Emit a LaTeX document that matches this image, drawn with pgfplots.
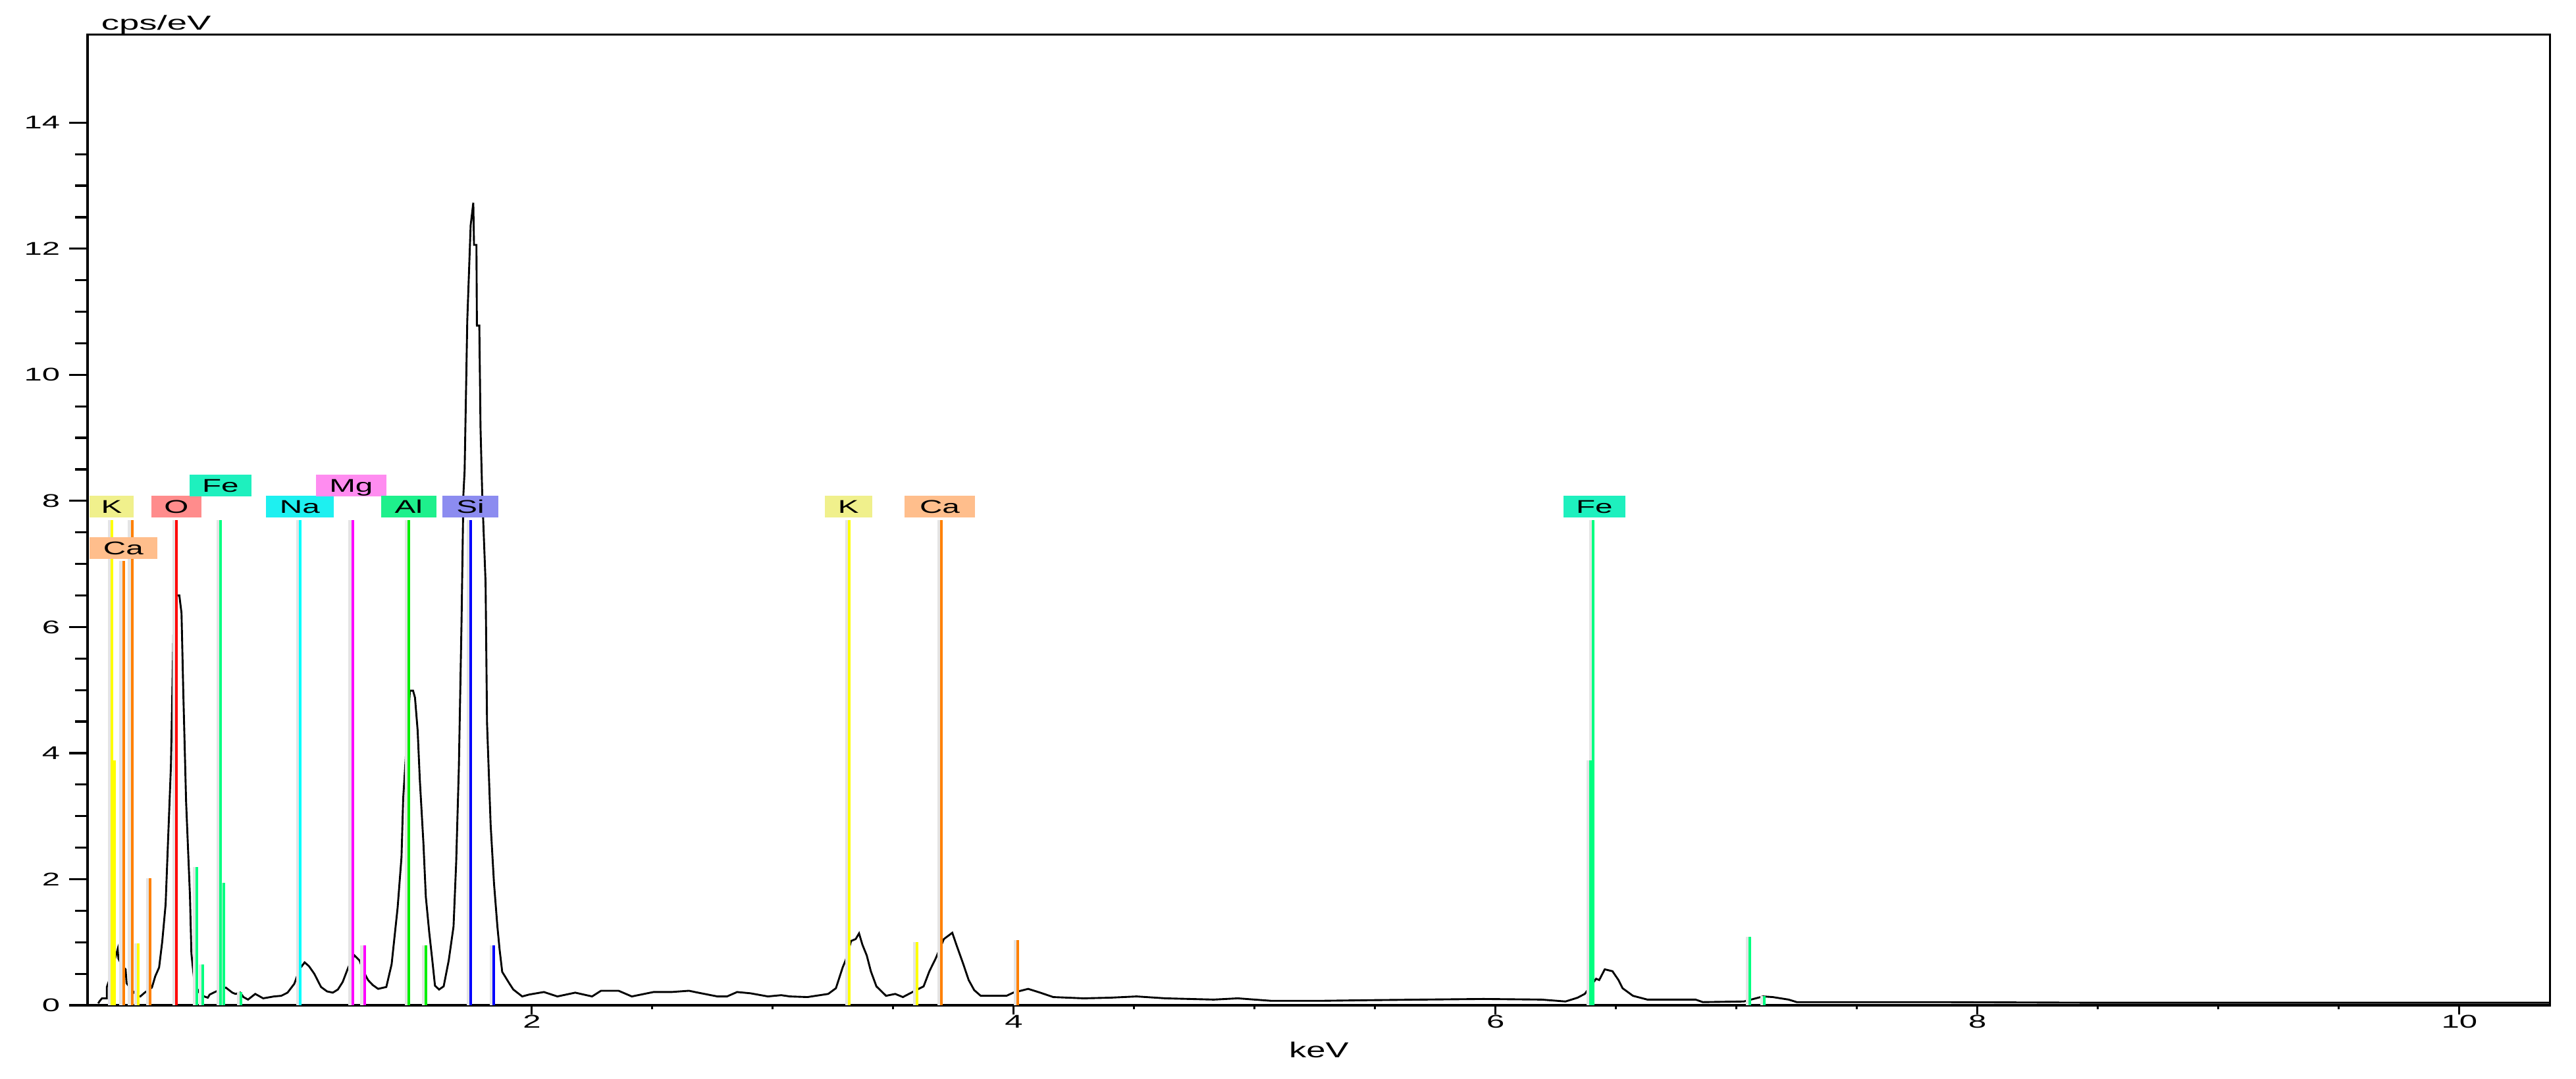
\documentclass[border=0pt]{standalone}
\usepackage{fontspec}
\setmainfont{Liberation Sans}
\usepackage{graphicx}
\usepackage{pgfplots}
\pgfplotsset{compat=1.18}

\definecolor{kline}{RGB}{255,255,0}
\definecolor{caline}{RGB}{255,128,0}
\definecolor{oline}{RGB}{255,0,0}
\definecolor{feline}{RGB}{0,255,128}
\definecolor{naline}{RGB}{0,255,255}
\definecolor{mgline}{RGB}{255,0,255}
\definecolor{alline}{RGB}{0,240,0}
\definecolor{siline}{RGB}{0,0,255}
\definecolor{kbox}{RGB}{240,240,140}
\definecolor{cabox}{RGB}{255,190,140}
\definecolor{obox}{RGB}{255,140,140}
\definecolor{febox}{RGB}{30,240,190}
\definecolor{nabox}{RGB}{30,240,240}
\definecolor{mgbox}{RGB}{255,140,240}
\definecolor{albox}{RGB}{30,240,140}
\definecolor{sibox}{RGB}{140,140,240}
\definecolor{shadow}{RGB}{228,228,228}

\newcommand{\wt}[2][1.7]{\scalebox{#1}[1]{#2}}
\newcommand{\tfont}{\fontsize{7pt}{8pt}\selectfont}

\pgfplotstableread{
x y
0.200 0.03
0.207 0.07
0.216 0.11
0.236 0.11
0.236 0.29
0.255 0.50
0.270 0.74
0.281 0.89
0.284 0.74
0.300 0.62
0.314 0.57
0.318 0.35
0.340 0.24
0.360 0.16
0.375 0.14
0.393 0.20
0.423 0.28
0.437 0.46
0.453 0.60
0.466 1.01
0.480 1.60
0.489 2.50
0.502 3.79
0.514 6.20
0.525 6.50
0.537 6.50
0.546 6.22
0.553 5.02
0.565 3.23
0.581 1.74
0.587 0.82
0.600 0.34
0.620 0.20
0.640 0.14
0.655 0.12
0.663 0.17
0.690 0.22
0.710 0.25
0.730 0.28
0.757 0.20
0.770 0.18
0.790 0.20
0.803 0.13
0.822 0.09
0.852 0.18
0.885 0.11
0.930 0.14
0.960 0.15
0.986 0.20
1.014 0.34
1.037 0.58
1.057 0.68
1.075 0.62
1.097 0.50
1.125 0.29
1.150 0.22
1.174 0.20
1.195 0.25
1.215 0.37
1.236 0.58
1.250 0.70
1.264 0.79
1.285 0.71
1.300 0.55
1.320 0.40
1.340 0.32
1.362 0.26
1.396 0.29
1.418 0.65
1.443 1.55
1.459 2.35
1.466 3.28
1.494 4.99
1.507 4.99
1.515 4.88
1.526 4.36
1.535 3.58
1.550 2.57
1.560 1.72
1.574 1.16
1.587 0.71
1.598 0.31
1.615 0.25
1.634 0.30
1.655 0.71
1.675 1.25
1.686 2.27
1.697 3.76
1.708 6.04
1.716 8.11
1.721 8.48
1.732 10.86
1.746 12.37
1.757 12.73
1.760 12.06
1.770 12.06
1.772 10.78
1.782 10.78
1.787 9.16
1.794 8.11
1.808 6.70
1.814 4.48
1.829 2.86
1.843 1.93
1.857 1.25
1.866 0.89
1.877 0.53
1.906 0.35
1.923 0.25
1.960 0.14
1.989 0.17
2.050 0.21
2.106 0.14
2.180 0.20
2.250 0.14
2.287 0.23
2.360 0.23
2.415 0.14
2.505 0.21
2.580 0.21
2.652 0.23
2.690 0.20
2.770 0.14
2.810 0.14
2.852 0.21
2.907 0.19
2.980 0.14
3.035 0.16
3.071 0.14
3.144 0.13
3.230 0.18
3.262 0.27
3.290 0.60
3.303 0.72
3.325 1.02
3.344 1.05
3.358 1.14
3.372 0.96
3.390 0.79
3.407 0.54
3.430 0.30
3.470 0.15
3.508 0.18
3.540 0.13
3.580 0.21
3.626 0.30
3.650 0.54
3.677 0.75
3.710 1.05
3.745 1.15
3.762 0.96
3.790 0.66
3.813 0.40
3.836 0.24
3.863 0.15
3.970 0.15
3.998 0.20
4.060 0.26
4.110 0.20
4.164 0.13
4.290 0.11
4.400 0.12
4.510 0.14
4.630 0.11
4.830 0.09
4.930 0.11
5.070 0.07
5.270 0.07
5.460 0.08
5.700 0.09
5.950 0.10
6.190 0.09
6.290 0.06
6.340 0.12
6.370 0.18
6.417 0.42
6.430 0.40
6.453 0.57
6.485 0.54
6.510 0.40
6.527 0.27
6.570 0.15
6.630 0.09
6.830 0.09
6.860 0.05
7.030 0.06
7.110 0.14
7.150 0.13
7.216 0.09
7.250 0.05
7.820 0.05
8.500 0.04
9.200 0.04
10.377 0.04
}\spectrum

\begin{document}
\begin{tikzpicture}
\useasboundingbox (-33.25pt,-28pt) rectangle (945pt,381.75pt);
% main axis: frame, y ticks, data
\begin{axis}[
  scale only axis,
  width=935.2pt, height=368.7pt,
  xmin=0.156, xmax=10.377, ymin=0, ymax=15.4,
  axis line style={line width=0.8pt},
  xtick=\empty,
  ytick={0,2,4,6,8,10,12,14},
  minor y tick num=3,
  ytick pos=left,
  tick align=outside,
  major tick length=7pt,
  minor tick length=4.75pt,
  tick style={line width=0.8pt, black},
  /pgf/number format/assume math mode=true,
  yticklabel={\wt[1.75]{\pgfmathprintnumber{\tick}}},
  yticklabel style={font=\tfont, anchor=east, inner sep=0pt, xshift=-3.25pt},
  clip mode=individual,
]
\addplot[black, line width=0.72pt, forget plot] table[x=x,y=y] {\spectrum};
% shadow lines (light grey, just left of each line)
\addplot[ycomb, shadow, line width=1.1pt, forget plot] coordinates {
(0.246,7.7) (0.257,3.88) (0.355,0.98)
(0.294,7.05) (0.330,7.7) (0.404,2.02)
(0.514,7.7)
(0.599,2.19) (0.623,0.65) (0.697,7.7) (0.710,1.94) (0.781,0.21)
(1.027,7.7)
(1.245,7.7) (1.294,0.95)
(1.478,7.7) (1.549,0.95)
(1.735,7.7) (1.832,0.95)
(3.306,7.7) (3.587,1.0)
(3.689,7.7) (4.005,1.03)
(6.383,3.88) (6.394,7.7) (7.044,1.09) (7.104,0.15)
};
% K
\addplot[ycomb, kline, line width=1pt, forget plot] coordinates {(0.257,7.7) (0.268,3.88) (0.366,0.98) (3.317,7.7) (3.598,1.0)};
% Ca
\addplot[ycomb, caline, line width=1pt, forget plot] coordinates {(0.305,7.05) (0.341,7.7) (0.415,2.02) (3.700,7.7) (4.016,1.03)};
% O
\addplot[ycomb, oline, line width=1pt, forget plot] coordinates {(0.525,7.7)};
% Fe
\addplot[ycomb, feline, line width=1pt, forget plot] coordinates {(0.610,2.19) (0.634,0.65) (0.708,7.7) (0.721,1.94) (0.792,0.21) (6.405,7.7) (6.394,3.88) (7.055,1.09) (7.115,0.15)};
% Na
\addplot[ycomb, naline, line width=1pt, forget plot] coordinates {(1.038,7.7)};
% Mg
\addplot[ycomb, mgline, line width=1pt, forget plot] coordinates {(1.256,7.7) (1.305,0.95)};
% Al
\addplot[ycomb, alline, line width=1pt, forget plot] coordinates {(1.489,7.7) (1.560,0.95)};
% Si
\addplot[ycomb, siline, line width=1pt, forget plot] coordinates {(1.746,7.7) (1.843,0.95)};

\tikzset{elbox/.style={inner sep=0pt, minimum height=8.25pt, text height=5pt, text depth=0pt, font=\tfont}}
\node[elbox, fill=kbox,  minimum width=16.75pt] at (axis cs:0.2555,7.91) {\wt{K}};
\node[elbox, fill=cabox, minimum width=25.75pt] at (axis cs:0.3046,7.25) {\wt{Ca}};
\node[elbox, fill=obox,  minimum width=19pt]    at (axis cs:0.5246,7.91) {\wt{O}};
\node[elbox, fill=febox, minimum width=23.5pt]  at (axis cs:0.7077,8.24) {\wt{Fe}};
\node[elbox, fill=nabox, minimum width=25.75pt] at (axis cs:1.0369,7.91) {\wt{Na}};
\node[elbox, fill=mgbox, minimum width=26.75pt] at (axis cs:1.2500,8.24) {\wt{Mg}};
\node[elbox, fill=albox, minimum width=21pt]    at (axis cs:1.4890,7.91) {\wt{Al}};
\node[elbox, fill=sibox, minimum width=21.25pt] at (axis cs:1.7450,7.91) {\wt{Si}};
\node[elbox, fill=kbox,  minimum width=18pt]    at (axis cs:3.3140,7.91) {\wt{K}};
\node[elbox, fill=cabox, minimum width=26.75pt] at (axis cs:3.6930,7.91) {\wt{Ca}};
\node[elbox, fill=febox, minimum width=23.5pt]  at (axis cs:6.4100,7.91) {\wt{Fe}};

\node[anchor=base west, inner sep=0pt, font=\fontsize{7.7pt}{9pt}\selectfont] at (rel axis cs:0,1) [xshift=5pt, yshift=1.75pt] {\wt[1.77]{cps/eV}};
\node[anchor=base, inner sep=0pt, font=\fontsize{8.2pt}{9pt}\selectfont] at (rel axis cs:0.5,0) [yshift=-20pt] {\wt[1.6]{keV}};
\end{axis}
% second axis: x ticks only
\begin{axis}[
  scale only axis,
  width=935.2pt, height=368.7pt,
  xmin=0.156, xmax=10.377, ymin=0, ymax=15.4,
  axis line style={draw=none},
  ytick=\empty,
  xtick={2,4,6,8,10},
  minor x tick num=3,
  xtick pos=bottom,
  tick align=outside,
  major tick length=3.5pt,
  minor tick length=1.6pt,
  tick style={line width=0.8pt, black},
  /pgf/number format/assume math mode=true,
  xticklabel={\wt[1.75]{\pgfmathprintnumber{\tick}}},
  xticklabel style={font=\tfont, anchor=north, inner sep=0pt},
]
\end{axis}
\end{tikzpicture}
\end{document}
